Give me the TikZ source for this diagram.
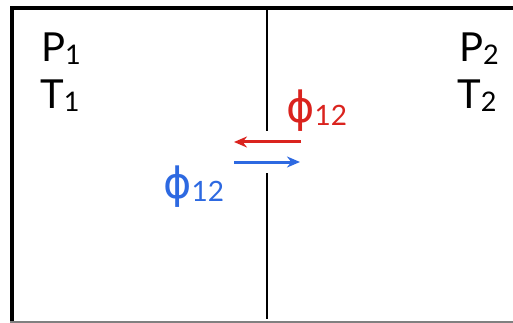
\documentclass[tikz,border=0pt]{standalone}
\usepackage{fontspec}
\setmainfont{Lato}
\newfontfamily\grk{DejaVu Sans}
\usetikzlibrary{arrows.meta}
\definecolor{fluxred}{RGB}{218,35,30}
\definecolor{fluxblue}{RGB}{45,105,225}
\newcommand{\bigtxt}{\fontsize{40}{44}\selectfont}
\newcommand{\subtxt}{\fontsize{27}{30}\selectfont}
\newcommand{\withsub}[2]{{\bigtxt #1}\raisebox{-3pt}{\subtxt #2}}
\newcommand{\phisym}{{\grk\fontsize{43}{46}\selectfont ϕ}}
\newcommand{\fluxlbl}{{\phisym}\raisebox{-3pt}{\fontsize{28}{32}\selectfont 12}}
\tikzset{
  wall/.style={line width=2.5pt, black},
  frame/.style={line width=3.5pt, black},
  lbl/.style={inner sep=0pt, anchor=base west},
  flux/.style={line width=3pt, -{Stealth[length=13pt,width=11pt]}},
}
\begin{document}
\begin{tikzpicture}[x=1pt,y=-1pt]
\useasboundingbox (0,0) rectangle (513,323);
\clip (0,0) rectangle (513,323);
% outer container
\draw[frame] (12,340) -- (12,8) -- (530,8);
\draw[line width=1.5pt, gray] (10,322.2) -- (530,322.2);
% dividing wall with an opening
\coordinate (wt) at (267,10);
\coordinate (wo1) at (267,131);
\coordinate (wo2) at (267,173);
\coordinate (wb) at (267,319);
\draw[wall] (wt) -- (wo1);
\draw[wall] (wo2) -- (wb);
% state labels
\node[lbl] (p1) at (41,62) {\withsub{P}{1}};
\node[lbl] (t1) at (40,109) {\withsub{T}{1}};
\node[lbl] (p2) at (459,62) {\withsub{P}{2}};
\node[lbl] (t2) at (457,109) {\withsub{T}{2}};
% flux arrows
\coordinate (ra) at (301,142);
\coordinate (rb) at (234,142);
\coordinate (ba) at (234,162);
\coordinate (bb) at (300,162);
\draw[flux, fluxred] (ra) -- (rb);
\draw[flux, fluxblue] (ba) -- (bb);
% flux labels
\node[lbl, text=fluxred] (phr) at (286,123) {\fluxlbl};
\node[lbl, text=fluxblue] (phb) at (163,198) {\fluxlbl};
\end{tikzpicture}
\end{document}
